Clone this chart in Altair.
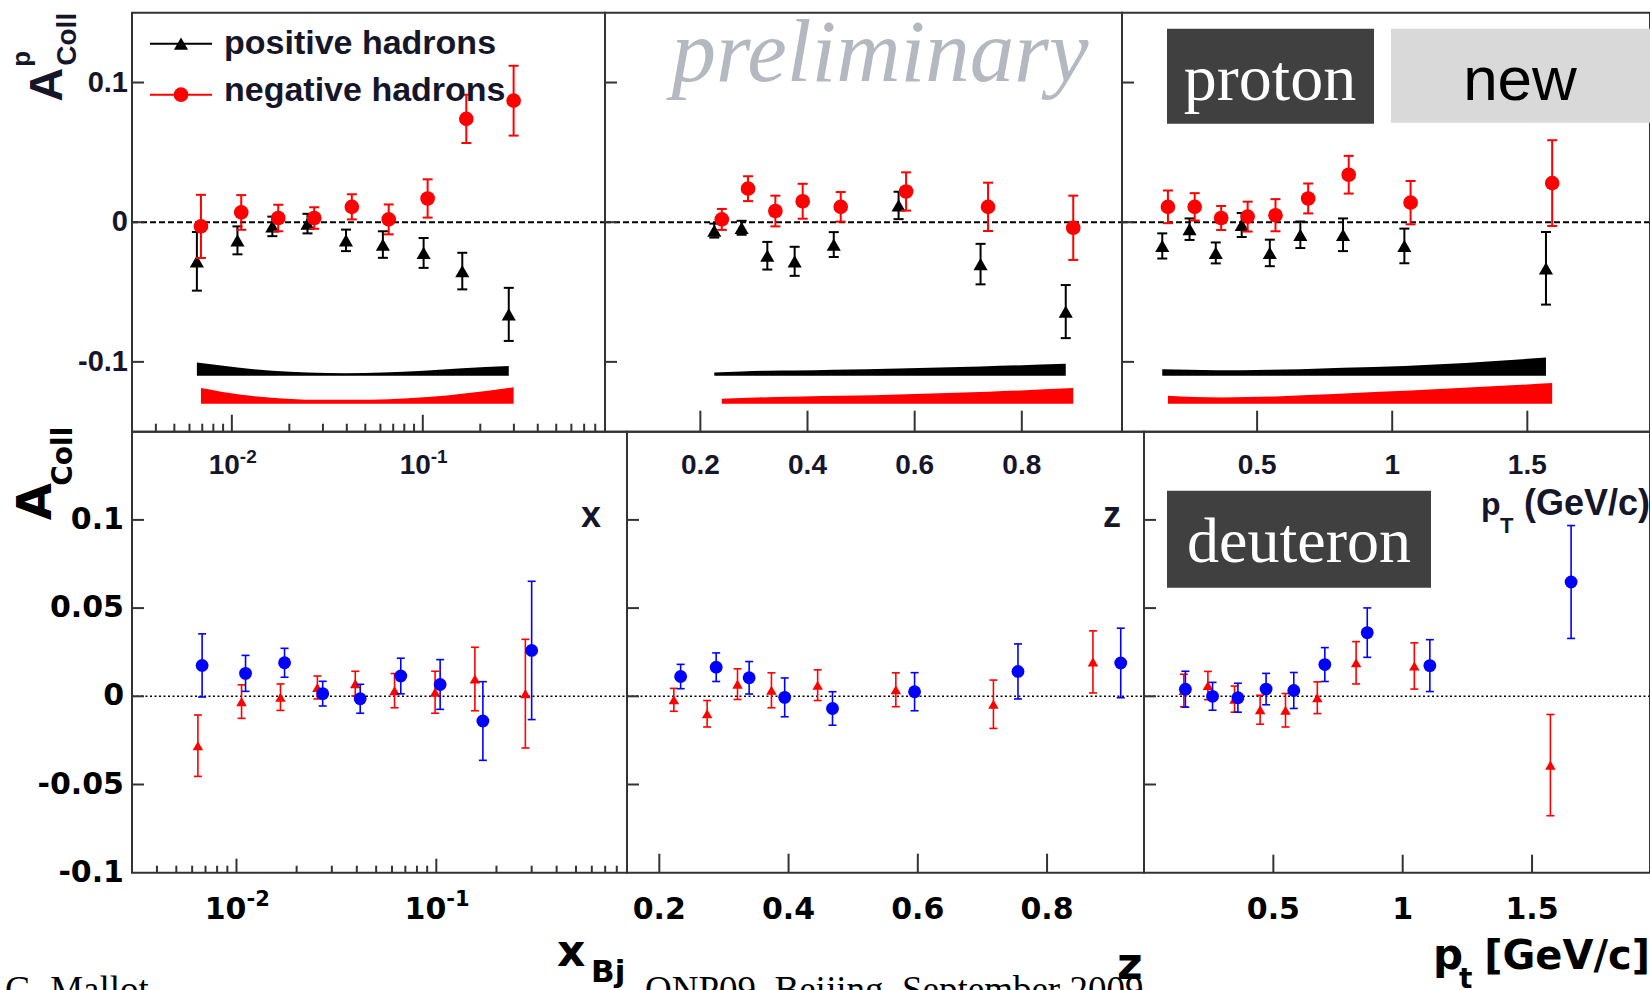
import altair as alt
import pandas as pd

# ======================= DATA =======================
# ---- proton (upper row): positive hadrons = black triangles, negative = red circles
P_X_POS_X = [0.00656, 0.0107, 0.0163, 0.0249, 0.0396, 0.0618, 0.101, 0.161, 0.282]
P_X_POS_Y = [-0.028, -0.013, -0.003, -0.001, -0.013, -0.016, -0.022, -0.035, -0.066]
P_X_POS_E = [0.021, 0.010, 0.007, 0.007, 0.0077, 0.0095, 0.0107, 0.0131, 0.019]
P_X_POS_S = [0.0095, 0.006, 0.0036, 0.0024, 0.0019, 0.0024, 0.0036, 0.0055, 0.0071]
P_X_NEG_X = [0.00689, 0.0112, 0.0175, 0.0270, 0.0425, 0.0663, 0.106, 0.169, 0.299]
P_X_NEG_Y = [-0.003, 0.007, 0.003, 0.003, 0.011, 0.002, 0.017, 0.074, 0.087]
P_X_NEG_E = [0.0226, 0.0124, 0.0095, 0.0077, 0.009, 0.0107, 0.0137, 0.0173, 0.025]
P_X_NEG_S = [0.0112, 0.0064, 0.004, 0.0029, 0.0029, 0.0033, 0.0048, 0.0076, 0.0119]

P_Z_POS_X = [0.226, 0.277, 0.325, 0.376, 0.449, 0.570, 0.723, 0.882]
P_Z_POS_Y = [-0.006, -0.004, -0.024, -0.028, -0.016, 0.012, -0.030, -0.064]
P_Z_POS_E = [0.005, 0.005, 0.0099, 0.0104, 0.0089, 0.0098, 0.0145, 0.019]
P_Z_POS_S = [0.0024, 0.0031, 0.0036, 0.0038, 0.0043, 0.0052, 0.0067, 0.0086]
P_Z_NEG_X = [0.240, 0.289, 0.340, 0.391, 0.462, 0.584, 0.737, 0.896]
P_Z_NEG_Y = [0.002, 0.024, 0.008, 0.015, 0.011, 0.022, 0.011, -0.004]
P_Z_NEG_E = [0.0075, 0.0089, 0.011, 0.0125, 0.0106, 0.0137, 0.0173, 0.023]
P_Z_NEG_S = [0.0036, 0.0043, 0.0048, 0.0052, 0.0057, 0.0069, 0.0086, 0.0112]

P_PT_POS_X = [0.149, 0.250, 0.347, 0.443, 0.547, 0.660, 0.818, 1.045, 1.569]
P_PT_POS_Y = [-0.017, -0.005, -0.022, -0.002, -0.022, -0.009, -0.009, -0.017, -0.033]
P_PT_POS_E = [0.009, 0.0077, 0.0075, 0.0086, 0.0095, 0.0095, 0.0117, 0.0124, 0.026]
P_PT_POS_S = [0.0048, 0.0043, 0.004, 0.004, 0.0043, 0.0048, 0.0057, 0.0071, 0.0131]
P_PT_NEG_X = [0.170, 0.269, 0.367, 0.465, 0.568, 0.689, 0.839, 1.068, 1.592]
P_PT_NEG_Y = [0.011, 0.011, 0.003, 0.004, 0.005, 0.017, 0.034, 0.014, 0.028]
P_PT_NEG_E = [0.0117, 0.0098, 0.0086, 0.0107, 0.0115, 0.0107, 0.0135, 0.0155, 0.0307]
P_PT_NEG_S = [0.0057, 0.0048, 0.0045, 0.0048, 0.0052, 0.0062, 0.0076, 0.0095, 0.0148]

SYS_BASE_POS = -0.11
SYS_BASE_NEG = -0.13

# ---- deuteron (lower row): red triangles, blue circles
D_X_RED_X = [0.00641, 0.0106, 0.0166, 0.0254, 0.0393, 0.0618, 0.0986, 0.156, 0.279]
D_X_RED_Y = [-0.028, -0.003, -0.0005, 0.005, 0.0072, 0.0032, 0.0023, 0.0098, 0.0015]
D_X_RED_E = [0.0174, 0.0095, 0.0075, 0.0065, 0.007, 0.0097, 0.0119, 0.018, 0.0308]
D_X_BLU_X = [0.00673, 0.0111, 0.0174, 0.0270, 0.0416, 0.0664, 0.1045, 0.171, 0.300]
D_X_BLU_Y = [0.0175, 0.013, 0.019, 0.0015, -0.0014, 0.0115, 0.0067, -0.014, 0.026]
D_X_BLU_E = [0.0179, 0.0102, 0.0082, 0.007, 0.0082, 0.0101, 0.0141, 0.0223, 0.0392]

D_Z_RED_X = [0.2225, 0.274, 0.321, 0.3735, 0.445, 0.566, 0.717, 0.871]
D_Z_RED_Y = [-0.002, -0.0099, 0.0069, 0.0034, 0.0063, 0.0037, -0.0045, 0.0195]
D_Z_RED_E = [0.0065, 0.0075, 0.0087, 0.0099, 0.0087, 0.0096, 0.0137, 0.0176]
D_Z_BLU_X = [0.233, 0.288, 0.339, 0.394, 0.468, 0.595, 0.755, 0.914]
D_Z_BLU_Y = [0.0112, 0.0165, 0.0105, -0.0006, -0.0069, 0.0026, 0.0141, 0.0189]
D_Z_BLU_E = [0.0069, 0.0081, 0.0092, 0.011, 0.0095, 0.0108, 0.0156, 0.0197]

D_PT_RED_X = [0.154, 0.247, 0.350, 0.449, 0.547, 0.670, 0.820, 1.045, 1.571]
D_PT_RED_Y = [0.0033, 0.0061, -0.0016, -0.0076, -0.0079, -0.0008, 0.019, 0.0172, -0.039]
D_PT_RED_E = [0.0092, 0.008, 0.0074, 0.0082, 0.0095, 0.009, 0.012, 0.0131, 0.0287]
D_PT_BLU_X = [0.160, 0.265, 0.363, 0.472, 0.579, 0.699, 0.863, 1.105, 1.651]
D_PT_BLU_Y = [0.004, 0.0, -0.0008, 0.0041, 0.0033, 0.018, 0.0361, 0.0174, 0.0648]
D_PT_BLU_E = [0.0102, 0.0079, 0.0082, 0.0089, 0.0102, 0.0096, 0.014, 0.0147, 0.032]

# ---- axis domains, ticks and tick labels
X_LOG_DOMAIN = [0.003, 0.9]
TOP_Z_DOMAIN = [0.022, 0.987]
BOT_Z_DOMAIN = [0.15, 0.95]
TOP_PT_DOMAIN = [0.0, 1.954]
BOT_PT_DOMAIN = [0.0, 1.956]
TOP_Y_DOMAIN = [-0.15, 0.15]
BOT_Y_DOMAIN = [-0.1, 0.15]

LOG_MAJOR = [0.01, 0.1]
LOG_BASE = ["10", "10"]
LOG_EXP = ["-2", "-1"]
LOG_MINOR = [0.004, 0.005, 0.006, 0.007, 0.008, 0.009,
             0.02, 0.03, 0.04, 0.05, 0.06, 0.07, 0.08, 0.09,
             0.2, 0.3, 0.4, 0.5, 0.6, 0.7, 0.8]
Z_TICKS = [0.2, 0.4, 0.6, 0.8]
Z_LABELS = ["0.2", "0.4", "0.6", "0.8"]
PT_TICKS = [0.5, 1.0, 1.5]
PT_LABELS = ["0.5", "1", "1.5"]
TOP_Y_TICKS = [-0.1, 0.0, 0.1]
TOP_Y_LABELS = ["-0.1", "0", "0.1"]
BOT_Y_TICKS = [-0.05, 0.0, 0.05, 0.1]
BOT_Y_LABEL_V = [-0.1, -0.05, 0.0, 0.05, 0.1]
BOT_Y_LABELS = ["-0.1", "-0.05", "0", "0.05", "0.1"]

LEGEND_TEXT = ["positive hadrons", "negative hadrons"]

# ======================= LAYOUT / STYLE =======================
FRAME = "#333333"
TOPTXT = "#16162a"
LS = "Liberation Sans"
LSER = "Liberation Serif"
DV = "DejaVu Sans"

PLOT_W, PLOT_H = 1518, 860
TOP_ROW = (0, 419)       # y pixel: top, bottom
BOT_ROW = (419, 860)
TOP_COLS = [(0, 473), (473, 990), (990, 1518)]
BOT_COLS = [(0, 495), (495, 1012), (1012, 1518)]


def series_df(xs, ys, es, ss=None, base=None):
    d = pd.DataFrame({"x": xs, "y": ys, "e": es})
    d["lo"] = d["y"] - d["e"]
    d["hi"] = d["y"] + d["e"]
    if ss is not None:
        d["base"] = base
        d["top"] = base + pd.Series(ss)
    return d


def one():
    return pd.DataFrame({"k": [0]})


def text(t, x, y, size, font, color="black", weight="normal", style="normal",
         align="left", baseline="alphabetic", angle=0):
    kw = dict(font=font, fontSize=size, color=color, fontWeight=weight,
              fontStyle=style, align=align, baseline=baseline)
    if angle:
        kw["angle"] = angle
    return alt.Chart(pd.DataFrame({"t": [t]})).mark_text(**kw).encode(
        x=alt.value(x), y=alt.value(y), text="t:N")


def box(x1, y1, x2, y2, color):
    return alt.Chart(one()).mark_rect(color=color).encode(
        x=alt.value(x1), x2=alt.value(x2), y=alt.value(y1), y2=alt.value(y2))


def panel(cols, rows, xdom, xlog, ydom, series, xmajor, major_len, xminor, minor_len,
          yticks, zero_dash, zero_w, xlab, ylab):
    x0, x1 = cols
    y0, y1 = rows
    xs = alt.Scale(type="log", domain=xdom, range=[x0, x1], nice=False) if xlog else \
        alt.Scale(domain=xdom, range=[x0, x1], nice=False, zero=False)
    ys = alt.Scale(domain=ydom, range=[y1, y0], nice=False, zero=False)
    X = lambda f: alt.X(f"{f}:Q", scale=xs, axis=None)
    Y = lambda f: alt.Y(f"{f}:Q", scale=ys, axis=None)
    L = []
    # systematic bands
    for s in series:
        if "top" in s["df"].columns:
            L.append(alt.Chart(s["df"]).mark_area(color=s["color"], interpolate="monotone",
                                                   opacity=1).encode(
                x=X("x"), y=Y("top"), y2=alt.Y2("base")))
    # zero line across the panel
    L.append(alt.Chart(pd.DataFrame({"v": [0.0], "a": [xdom[0]], "b": [xdom[1]]})).mark_rule(
        color="black", strokeWidth=zero_w, strokeDash=zero_dash).encode(
        y=Y("v"), x=X("a"), x2=alt.X2("b")))
    # error bars, caps and markers
    for s in series:
        base = alt.Chart(s["df"])
        L.append(base.mark_rule(color=s["color"], strokeWidth=s["lw"]).encode(
            x=X("x"), y=Y("lo"), y2=alt.Y2("hi")))
        for f in ("lo", "hi"):
            L.append(base.mark_tick(color=s["color"], orient="horizontal", size=s["cap"],
                                    thickness=s["lw"], opacity=1).encode(x=X("x"), y=Y(f)))
        L.append(base.mark_point(filled=True, shape=s["shape"], size=s["size"],
                                 color=s["color"], opacity=1).encode(x=X("x"), y=Y("y")))
    # frame
    L.append(alt.Chart(pd.DataFrame({"a": [xdom[0]], "b": [xdom[1]], "c": [ydom[0]], "d": [ydom[1]]}))
             .mark_rect(fillOpacity=0, stroke=FRAME, strokeWidth=2).encode(
        x=X("a"), x2=alt.X2("b"), y=Y("c"), y2=alt.Y2("d")))
    # inward ticks
    L.append(alt.Chart(pd.DataFrame({"v": yticks})).mark_rule(color=FRAME, strokeWidth=2).encode(
        y=Y("v"), x=alt.value(x0), x2=alt.value(x0 + 12)))
    L.append(alt.Chart(pd.DataFrame({"v": xmajor})).mark_rule(color=FRAME, strokeWidth=2).encode(
        x=X("v"), y=alt.value(y1 - major_len), y2=alt.value(y1)))
    if xminor:
        L.append(alt.Chart(pd.DataFrame({"v": xminor})).mark_rule(color=FRAME, strokeWidth=2).encode(
            x=X("v"), y=alt.value(y1 - minor_len), y2=alt.value(y1)))
    # x tick labels (drawn through the x scale)
    f = xlab
    if xlog:
        d = pd.DataFrame({"v": LOG_MAJOR, "b": LOG_BASE, "e": LOG_EXP})
        L.append(alt.Chart(d).mark_text(font=f["font"], fontSize=f["size"], fontWeight="bold",
                                        color=f["color"], align="right", baseline="middle",
                                        dx=f["edx"]).encode(
            x=X("v"), y=alt.value(y1 + f["pad"]), text="b:N"))
        L.append(alt.Chart(d).mark_text(font=f["font"], fontSize=f["esize"], fontWeight="bold",
                                        color=f["color"], align="left", baseline="middle",
                                        dx=f["edx"], dy=f["edy"]).encode(
            x=X("v"), y=alt.value(y1 + f["pad"]), text="e:N"))
    else:
        d = pd.DataFrame({"v": f["values"], "t": f["labels"]})
        L.append(alt.Chart(d).mark_text(font=f["font"], fontSize=f["size"], fontWeight="bold",
                                        color=f["color"], align="center", baseline="middle").encode(
            x=X("v"), y=alt.value(y1 + f["pad"]), text="t:N"))
    # y tick labels
    if ylab:
        d = pd.DataFrame({"v": ylab["values"], "t": ylab["labels"]})
        L.append(alt.Chart(d).mark_text(font=ylab["font"], fontSize=ylab["size"], fontWeight="bold",
                                        color=ylab["color"], align="right", baseline="middle").encode(
            y=Y("v"), x=alt.value(x0 - ylab["pad"]), text="t:N"))
    return L


def top_series(df_pos, df_neg):
    return [
        {"df": df_pos, "color": "#000000", "shape": "triangle-up", "size": 200, "cap": 10, "lw": 2},
        {"df": df_neg, "color": "#ff0000", "shape": "circle", "size": 215, "cap": 10, "lw": 2},
    ]


def bot_series(df_red, df_blu):
    return [
        {"df": df_red, "color": "#ff0000", "shape": "triangle-up", "size": 110, "cap": 8, "lw": 1.6},
        {"df": df_blu, "color": "#0000ff", "shape": "circle", "size": 165, "cap": 8, "lw": 1.6},
    ]


def top_xlab(values=None, labels=None):
    return dict(font=LS, size=28, esize=19, color=TOPTXT, pad=34, edx=8, edy=-9,
                values=values, labels=labels)


def bot_xlab(values=None, labels=None):
    return dict(font=DV, size=30, esize=21, color="black", pad=37, edx=10, edy=-10,
                values=values, labels=labels)


TOP_YLAB = dict(values=TOP_Y_TICKS, labels=TOP_Y_LABELS, font=LS, size=29, color=TOPTXT, pad=4)
BOT_YLAB = dict(values=BOT_Y_LABEL_V, labels=BOT_Y_LABELS, font=DV, size=30, color="black", pad=8)

layers = []
# ---------------- proton row ----------------
layers += panel(TOP_COLS[0], TOP_ROW, X_LOG_DOMAIN, True, TOP_Y_DOMAIN,
                top_series(series_df(P_X_POS_X, P_X_POS_Y, P_X_POS_E, P_X_POS_S, SYS_BASE_POS),
                           series_df(P_X_NEG_X, P_X_NEG_Y, P_X_NEG_E, P_X_NEG_S, SYS_BASE_NEG)),
                LOG_MAJOR, 17, LOG_MINOR, 8, TOP_Y_TICKS, [6, 3], 2, top_xlab(), TOP_YLAB)
layers += panel(TOP_COLS[1], TOP_ROW, TOP_Z_DOMAIN, False, TOP_Y_DOMAIN,
                top_series(series_df(P_Z_POS_X, P_Z_POS_Y, P_Z_POS_E, P_Z_POS_S, SYS_BASE_POS),
                           series_df(P_Z_NEG_X, P_Z_NEG_Y, P_Z_NEG_E, P_Z_NEG_S, SYS_BASE_NEG)),
                Z_TICKS, 21, None, 0, TOP_Y_TICKS, [6, 3], 2, top_xlab(Z_TICKS, Z_LABELS), None)
layers += panel(TOP_COLS[2], TOP_ROW, TOP_PT_DOMAIN, False, TOP_Y_DOMAIN,
                top_series(series_df(P_PT_POS_X, P_PT_POS_Y, P_PT_POS_E, P_PT_POS_S, SYS_BASE_POS),
                           series_df(P_PT_NEG_X, P_PT_NEG_Y, P_PT_NEG_E, P_PT_NEG_S, SYS_BASE_NEG)),
                PT_TICKS, 21, None, 0, TOP_Y_TICKS, [6, 3], 2, top_xlab(PT_TICKS, PT_LABELS), None)

# ---------------- deuteron row ----------------
layers += panel(BOT_COLS[0], BOT_ROW, X_LOG_DOMAIN, True, BOT_Y_DOMAIN,
                bot_series(series_df(D_X_RED_X, D_X_RED_Y, D_X_RED_E),
                           series_df(D_X_BLU_X, D_X_BLU_Y, D_X_BLU_E)),
                LOG_MAJOR, 14, LOG_MINOR, 7, BOT_Y_TICKS, [2, 2.5], 1.5, bot_xlab(), BOT_YLAB)
layers += panel(BOT_COLS[1], BOT_ROW, BOT_Z_DOMAIN, False, BOT_Y_DOMAIN,
                bot_series(series_df(D_Z_RED_X, D_Z_RED_Y, D_Z_RED_E),
                           series_df(D_Z_BLU_X, D_Z_BLU_Y, D_Z_BLU_E)),
                Z_TICKS, 19, None, 0, BOT_Y_TICKS, [2, 2.5], 1.5, bot_xlab(Z_TICKS, Z_LABELS), None)
layers += panel(BOT_COLS[2], BOT_ROW, BOT_PT_DOMAIN, False, BOT_Y_DOMAIN,
                bot_series(series_df(D_PT_RED_X, D_PT_RED_Y, D_PT_RED_E),
                           series_df(D_PT_BLU_X, D_PT_BLU_Y, D_PT_BLU_E)),
                PT_TICKS, 18, None, 0, BOT_Y_TICKS, [2, 2.5], 1.5, bot_xlab(PT_TICKS, PT_LABELS), None)

# ---------------- annotations ----------------
layers += [
    # legend (proton, x panel)
    alt.Chart(one()).mark_rule(color="black", strokeWidth=2).encode(
        x=alt.value(18), x2=alt.value(80), y=alt.value(31)),
    alt.Chart(one()).mark_point(filled=True, shape="triangle-up", size=200, color="black",
                                opacity=1).encode(x=alt.value(49), y=alt.value(31)),
    alt.Chart(one()).mark_rule(color="#ff0000", strokeWidth=2).encode(
        x=alt.value(18), x2=alt.value(80), y=alt.value(82)),
    alt.Chart(one()).mark_point(filled=True, shape="circle", size=215, color="#ff0000",
                                opacity=1).encode(x=alt.value(49), y=alt.value(82)),
    text(LEGEND_TEXT[0], 92, 31, 34, LS, TOPTXT, "bold", baseline="middle"),
    text(LEGEND_TEXT[1], 92, 78, 34, LS, TOPTXT, "bold", baseline="middle"),
    # proton y title  A^p_Coll
    text("A", -70, 72, 47, LS, TOPTXT, "bold", align="center", angle=270),
    text("Coll", -56, 53, 28, LS, TOPTXT, "bold", align="left", angle=270),
    text("p", -102, 54, 26, LS, TOPTXT, "bold", align="left", angle=270),
    # proton x-axis titles
    text("x", 469, 503, 36, LS, TOPTXT, "bold", align="right", baseline="middle"),
    text("z", 989, 503, 36, LS, TOPTXT, "bold", align="right", baseline="middle"),
    text("p", 1349, 502, 32, LS, TOPTXT, "bold"),
    text("T", 1368, 520, 22, LS, TOPTXT, "bold"),
    text("(GeV/c)", 1518, 502, 36, LS, TOPTXT, "bold", align="right"),
    # watermark and labels
    text("preliminary", 748, 68, 89, LSER, "#b4b9c1", style="italic", align="center"),
    box(1035, 16, 1242, 111, "#404040"),
    text("proton", 1138, 87, 66, LSER, "white", align="center"),
    box(1259, 16, 1518, 110, "#d9d9d9"),
    text("new", 1388, 87, 62, LS, "black", align="center"),
    box(1035, 478, 1299, 575, "#404040"),
    text("deuteron", 1167, 549, 64, LSER, "white", align="center"),
    # deuteron y title A_Coll
    text("A", -81.5, 489, 48, DV, "black", "bold", align="center", angle=270),
    text("Coll", -60.5, 473, 28, DV, "black", "bold", align="left", angle=270),
    # deuteron x-axis titles
    text("x", 425, 953, 44, DV, "black", "bold"),
    text("Bj", 459, 969, 31, DV, "black", "bold"),
    text("z", 985, 966, 44, DV, "black", "bold"),
    text("p", 1301, 956, 42, DV, "black", "bold"),
    text("t", 1327, 975, 28, DV, "black", "bold"),
    text("[GeV/c]", 1518, 956, 40, DV, "black", "bold", align="right"),
    # slide footer (cut by the bottom edge)
    text("G. Mallot", -127, 989, 37, LSER, "black"),
    text("QNP09, Beijing, September 2009", 513, 989, 37, LSER, "black"),
]

chart = alt.layer(*layers).resolve_scale(x="independent", y="independent").properties(
    width=PLOT_W, height=PLOT_H,
    autosize=alt.AutoSizeParams(type="none"),
    padding={"left": 132, "top": 12.7, "right": 0, "bottom": 117.3},
    background="white",
).configure_view(strokeOpacity=0)

chart.save("out.html", embed_options={"renderer": "svg", "actions": False})
